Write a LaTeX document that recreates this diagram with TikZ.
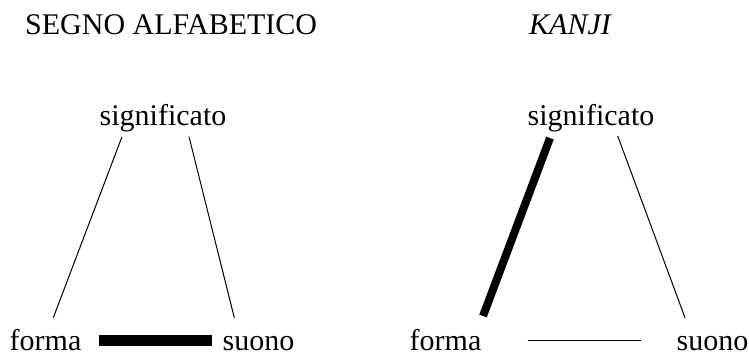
\documentclass[tikz,border=0pt]{standalone}
\usepackage{fontspec}
\setmainfont{Liberation Serif}
\begin{document}
\begin{tikzpicture}[x=1pt,y=1pt,
  lbl/.style={anchor=base west,inner sep=0pt,font=\fontsize{30}{36}\selectfont},
  low/.style={lbl,text depth=0pt},
  thin/.style={line width=1pt},
  heavy/.style={line width=#1,line cap=butt}]
\useasboundingbox (0,0) rectangle (749,354);
% titles
\node[lbl] (t1) at (25,319.7) {SEGNO ALFABETICO};
\node[lbl] (t2) at (529,319.7) {\itshape KANJI};
% left diagram
\node[lbl] (sig1) at (99.5,228.3) {significato};
\node[low] (for1) at (9.5,4) {forma};
\node[low] (suo1) at (222.5,4) {suono};
\coordinate (a1) at (122,217.3);
\coordinate (a2) at (53.3,36.3);
\coordinate (b1) at (189,217.3);
\coordinate (b2) at (234.3,36.3);
\coordinate (c1) at (99,13.6);
\coordinate (c2) at (211.7,13.6);
\draw[thin] (a1) -- (a2);
\draw[thin] (b1) -- (b2);
\draw[heavy=10.7pt] (c1) -- (c2);
% right diagram
\node[lbl] (sig2) at (527.5,228.3) {significato};
\node[low] (for2) at (409.5,4) {forma};
\node[low] (suo2) at (676.5,4) {suono};
\coordinate (d1) at (550,216);
\coordinate (d2) at (483,38);
\coordinate (e1) at (617.7,218);
\coordinate (e2) at (685,36.3);
\coordinate (f1) at (527.7,14);
\coordinate (f2) at (640.7,14);
\draw[heavy=8pt] (d1) -- (d2);
\draw[thin] (e1) -- (e2);
\draw[thin] (f1) -- (f2);
\end{tikzpicture}
\end{document}
